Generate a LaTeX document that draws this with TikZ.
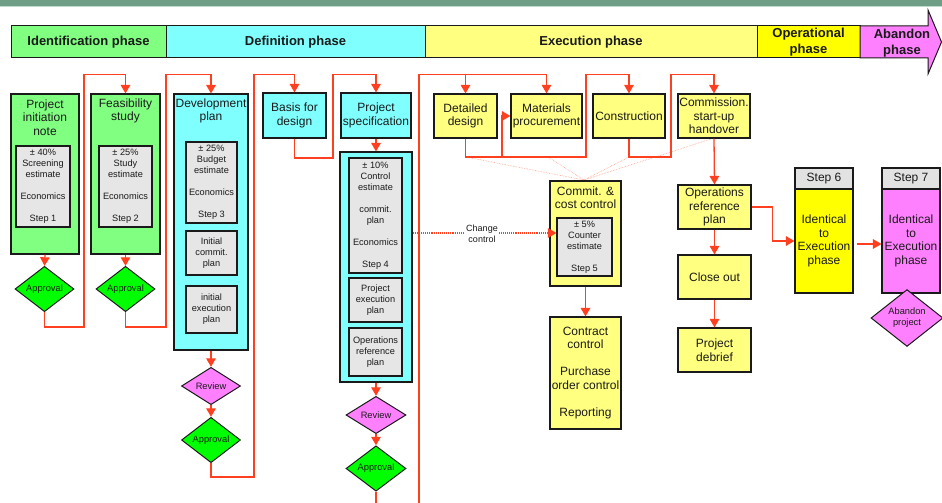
\documentclass[tikz,border=0pt]{standalone}
\usepackage{fontspec}
\setmainfont{Liberation Sans}
\usetikzlibrary{arrows.meta,shapes.geometric}

\definecolor{linered}{HTML}{FF4020}
\definecolor{faintred}{HTML}{FF9A80}
\definecolor{pgreen}{HTML}{80FF80}
\definecolor{pcyan}{HTML}{80FFFF}
\definecolor{plyellow}{HTML}{FFFF80}
\definecolor{pyellow}{HTML}{FFFF00}
\definecolor{pmag}{HTML}{FF80FF}
\definecolor{lime}{HTML}{00FF00}
\definecolor{boxgray}{HTML}{E6E6E6}
\definecolor{hdrgray}{HTML}{E2E2E2}
\definecolor{bandgreen}{HTML}{6E9E85}
\definecolor{bandlight}{HTML}{C4D9CC}
\definecolor{ink}{HTML}{1A1A1A}

% box from corner (x1,y1) to corner (x2,y2): name, x1, y1, x2, y2, style, text
\newcommand\bx[7]{\node[#6,minimum width={(#4-#2)*1pt},minimum height={(#5-#3)*1pt}] (#1) at ({(#2+#4)/2},{(#3+#5)/2}) {#7};}
% empty line inside a multi-line node
\newcommand\gap{\\\mbox{}\\}

\begin{document}
\begin{tikzpicture}[x=1pt,y=-1pt,
  phase/.style={draw=ink,line width=1pt,inner sep=0pt,align=center,text=ink,
    font=\fontsize{13}{15.5}\selectfont\bfseries},
  box/.style={draw=ink,line width=1.1pt,inner sep=0pt,align=center,text=ink,
    font=\fontsize{12}{13.5}\selectfont},
  title/.style={inner sep=0pt,align=center,text=ink,font=\fontsize{12}{13.5}\selectfont},
  inbox/.style={draw=ink,line width=1.1pt,fill=boxgray,inner sep=0pt,align=center,text=ink,
    font=\fontsize{9.2}{11}\selectfont},
  dia/.style={diamond,draw=ink,line width=1pt,inner sep=0pt,align=center,text=ink,
    font=\fontsize{9.3}{11}\selectfont},
  conn/.style={draw=linered,line width=1.3pt,-{Triangle[length=8.5pt,width=9.5pt]}},
  wire/.style={draw=linered,line width=1.3pt},
  hint/.style={draw=faintred,line width=0.6pt,densely dotted},
  ctl/.style={draw=linered,line width=1.1pt,densely dotted,-{Triangle[length=8.5pt,width=9.5pt]}}]

\useasboundingbox (0,0) rectangle (942,503);

% header band
\fill[bandgreen] (0,0) rectangle (942,6);
\fill[bandlight] (0,6) rectangle (942,7.5);

% ---------- phase bar ----------
\bx{idph}{11}{26}{166}{58}{phase,fill=pgreen}{Identification phase}
\bx{defph}{166}{26}{425}{58}{phase,fill=pcyan}{Definition phase}
\bx{exph}{425}{26}{757}{58}{phase,fill=plyellow}{Execution phase}
\bx{opph}{757}{26}{860}{58}{phase,fill=pyellow}{Operational\\phase}
\draw[draw=ink,line width=1pt,fill=pmag] (860,26) -- (928,26) -- (928,10) -- (941.5,42)
  -- (928,74) -- (928,58) -- (860,58) -- cycle;
\node[phase,draw=none] (abph) at (902,43) {Abandon\\phase};

% ---------- faint dotted feeds into cost control ----------
\coordinate (ccin) at (584,180);
\draw[hint] (466,157) -- (ccin);
\draw[hint] (548,157) -- (ccin);
\draw[hint] (629,157) -- (ccin);
\draw[hint] (714,138) -- (ccin);

% ---------- identification ----------
\bx{pin}{11}{94}{79}{254}{box,fill=pgreen}{}
\node[title] (pint) at (45,117.5) {Project\\initiation\\note};
\bx{pie}{16}{146}{70}{227}{inbox}{± 40\%\\Screening\\estimate\gap Economics\gap Step 1}
\node[dia,fill=lime,minimum width=59pt,minimum height=36pt] (ap1) at (44.5,289) {Approval};

\bx{fs}{91}{94}{160}{254}{box,fill=pgreen}{}
\node[title] (fst) at (125.5,111) {Feasibility\\study};
\bx{fse}{99}{146}{152}{227}{inbox}{± 25\%\\Study\\estimate\gap Economics\gap Step 2}
\node[dia,fill=lime,minimum width=59pt,minimum height=36pt] (ap2) at (125.5,289) {Approval};

% ---------- definition ----------
\bx{dp}{174}{94}{248}{350}{box,fill=pcyan}{}
\node[title] (dpt) at (211,111) {Development\\plan};
\bx{dpe1}{186}{142}{237}{223}{inbox}{± 25\%\\Budget\\estimate\gap Economics\gap Step 3}
\bx{dpe2}{186}{231}{237}{275}{inbox}{Initial\\commit.\\plan}
\bx{dpe3}{186}{286}{237}{333}{inbox}{initial\\execution\\plan}
\node[dia,fill=pmag,minimum width=59pt,minimum height=36pt] (rv1) at (211,386) {Review};
\node[dia,fill=lime,minimum width=59pt,minimum height=36pt] (ap3) at (211,440) {Approval};

\bx{bd}{263}{93}{326}{138}{box,fill=pcyan}{Basis for\\design}
\bx{ps}{341}{93}{411}{138}{box,fill=pcyan}{Project\\specification}
\bx{psc}{340}{152}{412}{382}{box,fill=pcyan}{}
\bx{pse1}{349}{158}{402}{273}{inbox}{± 10\%\\Control\\estimate\gap commit.\\plan\gap Economics\gap Step 4}
\bx{pse2}{349}{278}{402}{322}{inbox}{Project\\execution\\plan}
\bx{pse3}{349}{328}{402}{376}{inbox}{Operations\\reference\\plan}
\node[dia,fill=pmag,minimum width=60pt,minimum height=36pt] (rv2) at (376,415) {Review};
\node[dia,fill=lime,minimum width=60pt,minimum height=37pt] (ap4) at (376,468.5) {Approval};

% ---------- execution ----------
\bx{dd}{434}{94}{497}{138}{box,fill=plyellow}{Detailed\\design}
\bx{mp}{511}{94}{582}{138}{box,fill=plyellow}{Materials\\procurement}
\bx{cons}{593}{94}{665}{138}{box,fill=plyellow}{Construction}
\bx{com}{678}{94}{750}{138}{box,fill=plyellow}{Commission.\\start-up\\handover}

\bx{cc}{550}{181}{621}{286}{box,fill=plyellow}{}
\node[title] (cct) at (585.5,197.5) {Commit. \&\\cost control};
\bx{cce}{557}{218}{612}{276}{inbox}{± 5\%\\Counter\\estimate\gap Step 5}
\bx{ctc}{550}{317}{621}{429}{box,fill=plyellow}{Contract\\control\gap Purchase\\order control\gap Reporting}

\bx{orp}{678}{185}{751}{229}{box,fill=plyellow}{Operations\\reference\\plan}
\bx{clo}{678}{255}{751}{299}{box,fill=plyellow}{Close out}
\bx{pdb}{678}{328}{751}{372}{box,fill=plyellow}{Project\\debrief}

% ---------- operational / abandon ----------
\bx{s6h}{795}{168}{853}{189}{box,fill=hdrgray}{Step 6}
\bx{s6b}{795}{189}{853}{293}{box,fill=pyellow}{Identical\\to\\Execution\\phase}
\bx{s7h}{882}{168}{940}{189}{box,fill=hdrgray}{Step 7}
\bx{s7b}{882}{189}{940}{293}{box,fill=pmag}{Identical\\to\\Execution\\phase}
\node[dia,fill=pmag,minimum width=72pt,minimum height=49pt] (abp) at (907,318) {Abandon\\project};

% ---------- connectors ----------
\draw[conn] (pin.south) -- (ap1.north);
\draw[conn] (ap1.south) -- (ap1.south |- 0,327) -| (84,74.5) -| (fs.north);
\draw[conn] (fs.south) -- (ap2.north);
\draw[conn] (ap2.south) -- (ap2.south |- 0,327) -| (166,74.5) -| (dp.north);
\draw[conn] (dp.south) -- (rv1.north);
\draw[conn] (rv1.south) -- (ap3.north);
\draw[conn] (ap3.south) -- (ap3.south |- 0,477) -| (254,74.5) -| (bd.north);
\draw[conn] (bd.south) -- (bd.south |- 0,158) -| (333,74.5) -| (ps.north);
\draw[conn] (ps.south) -- (psc.north);
\draw[conn] (psc.south) -- (rv2.north);
\draw[conn] (rv2.south) -- (ap4.north);
\coordinate (psout) at (376,503);
\draw[wire] (ap4.south) -- (psout);

\coordinate (exin) at (419,503);
\draw[conn] (exin) -- (419,74.5) -| (mp.north);
\draw[conn] (dd.north |- 0,74.5) -- (dd.north);
\draw[conn] (dd.south) -- (dd.south |- 0,157) -| (586,74.5) -| (cons.north);
\coordinate (jmp) at (502,157);
\draw[conn] (jmp) |- (mp.west);
\draw[conn] (cons.south) -- (cons.south |- 0,157) -| (671,74.5) -| (com.north);
\draw[conn] (com.south) -- (orp.north);
\draw[conn] (orp.south) -- (clo.north);
\draw[conn] (clo.south) -- (pdb.north);
\draw[conn] (cc.south) -- (ctc.north);
\draw[conn] (orp.east) -- ++(21,0) |- (s6b.west);
\draw[conn,shorten <=3pt] (s6b.east |- 0,244) -- (s7b.west |- 0,244);

% change control
\draw[ctl] (psc.east |- 0,233) -- (cce.west |- 0,233);
\node[fill=white,inner sep=1pt,align=center,text=ink,font=\fontsize{9}{10.5}\selectfont]
  (chg) at (482,234) {Change\\control};

\end{tikzpicture}
\end{document}
